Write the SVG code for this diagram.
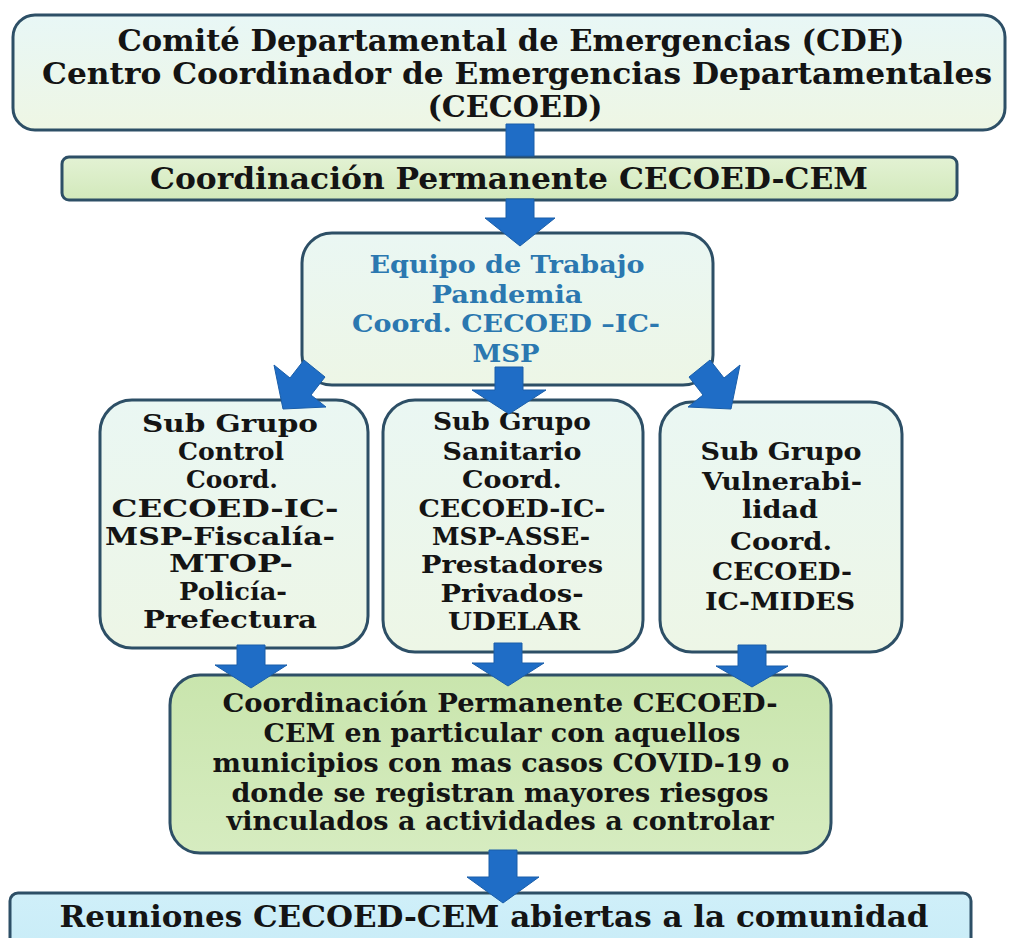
<svg xmlns="http://www.w3.org/2000/svg" width="1011" height="938" viewBox="0 0 1011 938">
<defs>
<linearGradient id="gTop" x1="0" y1="0" x2="0" y2="1"><stop offset="0" stop-color="#e8f7f6"/><stop offset="1" stop-color="#eef6e4"/></linearGradient>
<linearGradient id="gBar" x1="0" y1="0" x2="0" y2="1"><stop offset="0" stop-color="#e3f2d4"/><stop offset="1" stop-color="#d2e9bb"/></linearGradient>
<linearGradient id="gSub" x1="0" y1="0" x2="0" y2="1"><stop offset="0" stop-color="#eaf7f3"/><stop offset="1" stop-color="#edf6e6"/></linearGradient>
<linearGradient id="gGreen" x1="0" y1="0" x2="0" y2="1"><stop offset="0" stop-color="#c9e5ad"/><stop offset="1" stop-color="#d6ecc0"/></linearGradient>
<linearGradient id="gBlue" x1="0" y1="0" x2="0" y2="1"><stop offset="0" stop-color="#cfeff9"/><stop offset="1" stop-color="#c8ecf7"/></linearGradient>
<style>
.box{stroke:#2d4f66;stroke-width:3}
.t{font-family:"DejaVu Serif","Liberation Serif",serif;font-weight:bold;fill:#141414;text-anchor:middle}
.s{font-size:24px}
.tb{fill:#2b78b0}
.arr{fill:#1f6dc6;stroke:#1a5ea9;stroke-width:1}
</style>
</defs>

<g id="cde">
<rect class="box" x="13" y="15" width="992" height="115" rx="22" fill="url(#gTop)"/>
<text class="t" font-size="29" x="511" y="51" textLength="787" lengthAdjust="spacingAndGlyphs">Comité Departamental de Emergencias (CDE)</text>
<text class="t" font-size="29" x="517" y="84" textLength="950" lengthAdjust="spacingAndGlyphs">Centro Coordinador de Emergencias Departamentales</text>
<text class="t" font-size="29" x="515" y="117" textLength="175" lengthAdjust="spacingAndGlyphs">(CECOED)</text>
</g>

<g id="coord-permanente">
<rect class="box" x="62" y="157" width="895" height="43" rx="7" fill="url(#gBar)"/>
<text class="t" font-size="30" x="509" y="189" textLength="718" lengthAdjust="spacingAndGlyphs">Coordinación Permanente CECOED-CEM</text>
</g>

<g id="equipo-trabajo">
<rect class="box" x="302" y="233" width="411" height="152" rx="30" fill="url(#gSub)"/>
<text class="t tb" font-size="25" x="507" y="273" textLength="275" lengthAdjust="spacingAndGlyphs">Equipo de Trabajo</text>
<text class="t tb" font-size="25" x="507" y="303" textLength="151" lengthAdjust="spacingAndGlyphs">Pandemia</text>
<text class="t tb" font-size="25" x="506" y="332" textLength="308" lengthAdjust="spacingAndGlyphs">Coord. CECOED –IC-</text>
<text class="t tb" font-size="25" x="506" y="362" textLength="67" lengthAdjust="spacingAndGlyphs">MSP</text>
</g>

<g id="sub-control">
<rect class="box" x="100" y="400" width="268" height="248" rx="32" fill="url(#gSub)"/>
<text class="t s" x="230" y="432" textLength="176" lengthAdjust="spacingAndGlyphs">Sub Grupo</text>
<text class="t s" x="231" y="460" textLength="106" lengthAdjust="spacingAndGlyphs">Control</text>
<text class="t s" x="232" y="488" textLength="92" lengthAdjust="spacingAndGlyphs">Coord.</text>
<text class="t s" x="225" y="517" textLength="227" lengthAdjust="spacingAndGlyphs">CECOED-IC-</text>
<text class="t s" x="220" y="545" textLength="230" lengthAdjust="spacingAndGlyphs">MSP-Fiscalía-</text>
<text class="t s" x="231" y="572" textLength="124" lengthAdjust="spacingAndGlyphs">MTOP-</text>
<text class="t s" x="233" y="600" textLength="108" lengthAdjust="spacingAndGlyphs">Policía-</text>
<text class="t s" x="230" y="628" textLength="174" lengthAdjust="spacingAndGlyphs">Prefectura</text>
</g>

<g id="sub-sanitario">
<rect class="box" x="383" y="400" width="260" height="252" rx="32" fill="url(#gSub)"/>
<text class="t s" x="512" y="430" textLength="158" lengthAdjust="spacingAndGlyphs">Sub Grupo</text>
<text class="t s" x="512" y="460" textLength="139" lengthAdjust="spacingAndGlyphs">Sanitario</text>
<text class="t s" x="512" y="488" textLength="100" lengthAdjust="spacingAndGlyphs">Coord.</text>
<text class="t s" x="512" y="517" textLength="187" lengthAdjust="spacingAndGlyphs">CECOED-IC-</text>
<text class="t s" x="511" y="545" textLength="158" lengthAdjust="spacingAndGlyphs">MSP-ASSE-</text>
<text class="t s" x="512" y="573" textLength="182" lengthAdjust="spacingAndGlyphs">Prestadores</text>
<text class="t s" x="512" y="602" textLength="143" lengthAdjust="spacingAndGlyphs">Privados-</text>
<text class="t s" x="514" y="630" textLength="132" lengthAdjust="spacingAndGlyphs">UDELAR</text>
</g>

<g id="sub-vulnerabilidad">
<rect class="box" x="660" y="402" width="242" height="250" rx="32" fill="url(#gSub)"/>
<text class="t s" x="781" y="460" textLength="161" lengthAdjust="spacingAndGlyphs">Sub Grupo</text>
<text class="t s" x="782" y="490" textLength="160" lengthAdjust="spacingAndGlyphs">Vulnerabi-</text>
<text class="t s" x="780" y="518" textLength="76" lengthAdjust="spacingAndGlyphs">lidad</text>
<text class="t s" x="781" y="550" textLength="102" lengthAdjust="spacingAndGlyphs">Coord.</text>
<text class="t s" x="782" y="580" textLength="140" lengthAdjust="spacingAndGlyphs">CECOED-</text>
<text class="t s" x="780" y="610" textLength="150" lengthAdjust="spacingAndGlyphs">IC-MIDES</text>
</g>

<g id="coord-municipios">
<rect class="box" x="170" y="675" width="661" height="178" rx="30" fill="url(#gGreen)"/>
<text class="t" font-size="26" x="500" y="712" textLength="555" lengthAdjust="spacingAndGlyphs">Coordinación Permanente CECOED-</text>
<text class="t" font-size="26" x="502" y="742" textLength="477" lengthAdjust="spacingAndGlyphs">CEM en particular con aquellos</text>
<text class="t" font-size="26" x="501" y="772" textLength="577" lengthAdjust="spacingAndGlyphs">municipios con mas casos COVID-19 o</text>
<text class="t" font-size="26" x="500" y="802" textLength="537" lengthAdjust="spacingAndGlyphs">donde se registran mayores riesgos</text>
<text class="t" font-size="26" x="500" y="830" textLength="547" lengthAdjust="spacingAndGlyphs">vinculados a actividades a controlar</text>
</g>

<g id="reuniones">
<rect class="box" x="10" y="893" width="961" height="70" rx="8" fill="url(#gBlue)"/>
<text class="t" font-size="30" x="494" y="927" textLength="869" lengthAdjust="spacingAndGlyphs">Reuniones CECOED-CEM abiertas a la comunidad</text>
</g>

<g id="connectors">
<path class="arr" d="M506,124 H534 V156 H506 Z"/>
<path class="arr" d="M506,199 H534 V218 H555 L520,246 L485,218 H506 Z"/>
<path class="arr" d="M283,409 L326,407 L311,395 L325,377 L304,360 L290,378 L274,365 Z"/>
<path class="arr" d="M495,367 H523 V390 H546 L509,414 L472,390 H495 Z"/>
<path class="arr" d="M731,409 L688,407 L703,395 L689,377 L710,360 L724,378 L740,365 Z"/>
<path class="arr" d="M237,645 H265 V665 H287 L251,688 L215,665 H237 Z"/>
<path class="arr" d="M494,643 H522 V663 H544 L508,686 L472,663 H494 Z"/>
<path class="arr" d="M738,645 H766 V666 H788 L752,687 L716,666 H738 Z"/>
<path class="arr" d="M489,850 H517 V877 H539 L503,903 L467,877 H489 Z"/>
</g>
</svg>
